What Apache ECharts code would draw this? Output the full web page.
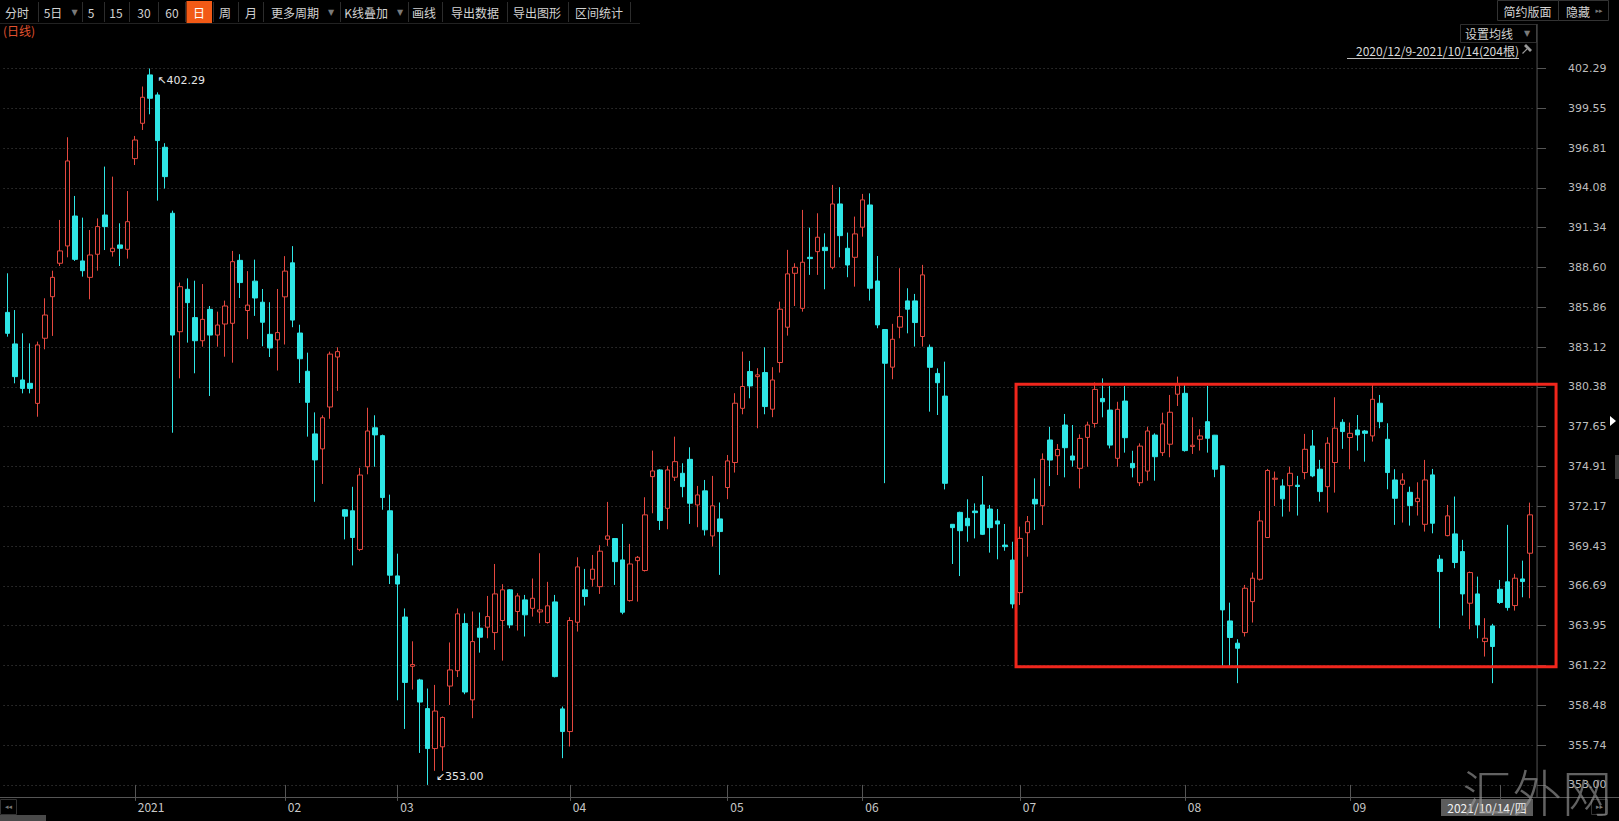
<!DOCTYPE html>
<html><head><meta charset="utf-8">
<script src="https://cdn.jsdelivr.net/npm/echarts@6.0.0/dist/echarts.min.js"></script>
<style>html,body{margin:0;padding:0;background:#000;overflow:hidden}#c{width:1619px;height:821px}</style>
</head><body><div id="c"></div><script>
const dates = [
'2020/12/9','2020/12/10','2020/12/11','2020/12/14','2020/12/15','2020/12/16','2020/12/17','2020/12/18','2020/12/21','2020/12/22','2020/12/23','2020/12/24','2020/12/25','2020/12/28','2020/12/29','2020/12/30','2020/12/31',
'2021/1/4','2021/1/5','2021/1/6','2021/1/7','2021/1/8','2021/1/11','2021/1/12','2021/1/13','2021/1/14','2021/1/15','2021/1/18','2021/1/19','2021/1/20','2021/1/21','2021/1/22','2021/1/25','2021/1/26','2021/1/27','2021/1/28','2021/1/29',
'2021/2/1','2021/2/2','2021/2/3','2021/2/4','2021/2/5','2021/2/8','2021/2/9','2021/2/10','2021/2/18','2021/2/19','2021/2/22','2021/2/23','2021/2/24','2021/2/25','2021/2/26',
'2021/3/1','2021/3/2','2021/3/3','2021/3/4','2021/3/5','2021/3/8','2021/3/9','2021/3/10','2021/3/11','2021/3/12','2021/3/15','2021/3/16','2021/3/17','2021/3/18','2021/3/19','2021/3/22','2021/3/23','2021/3/24','2021/3/25','2021/3/26','2021/3/29','2021/3/30','2021/3/31',
'2021/4/1','2021/4/2','2021/4/6','2021/4/7','2021/4/8','2021/4/9','2021/4/12','2021/4/13','2021/4/14','2021/4/15','2021/4/16','2021/4/19','2021/4/20','2021/4/21','2021/4/22','2021/4/23','2021/4/26','2021/4/27','2021/4/28','2021/4/29','2021/4/30',
'2021/5/6','2021/5/7','2021/5/10','2021/5/11','2021/5/12','2021/5/13','2021/5/14','2021/5/17','2021/5/18','2021/5/19','2021/5/20','2021/5/21','2021/5/24','2021/5/25','2021/5/26','2021/5/27','2021/5/28','2021/5/31',
'2021/6/1','2021/6/2','2021/6/3','2021/6/4','2021/6/7','2021/6/8','2021/6/9','2021/6/10','2021/6/11','2021/6/15','2021/6/16','2021/6/17','2021/6/18','2021/6/21','2021/6/22','2021/6/23','2021/6/24','2021/6/25','2021/6/28','2021/6/29','2021/6/30',
'2021/7/1','2021/7/2','2021/7/5','2021/7/6','2021/7/7','2021/7/8','2021/7/9','2021/7/12','2021/7/13','2021/7/14','2021/7/15','2021/7/16','2021/7/19','2021/7/20','2021/7/21','2021/7/22','2021/7/23','2021/7/26','2021/7/27','2021/7/28','2021/7/29','2021/7/30',
'2021/8/2','2021/8/3','2021/8/4','2021/8/5','2021/8/6','2021/8/9','2021/8/10','2021/8/11','2021/8/12','2021/8/13','2021/8/16','2021/8/17','2021/8/18','2021/8/19','2021/8/20','2021/8/23','2021/8/24','2021/8/25','2021/8/26','2021/8/27','2021/8/30','2021/8/31',
'2021/9/1','2021/9/2','2021/9/3','2021/9/6','2021/9/7','2021/9/8','2021/9/9','2021/9/10','2021/9/13','2021/9/14','2021/9/15','2021/9/16','2021/9/17','2021/9/22','2021/9/23','2021/9/24','2021/9/27','2021/9/28','2021/9/29','2021/9/30',
'2021/10/8','2021/10/11','2021/10/12','2021/10/13','2021/10/14'];

const opens = [385.51,383.34,380.86,380.63,379.25,383.73,386.59,388.89,390.08,392.14,389.05,387.92,389.51,392.21,389.69,390.15,389.85,
396.09,398.52,401.85,400.47,396.87,392.33,384.18,387.10,385.15,383.56,385.72,383.95,384.71,384.76,389.09,385.64,387.66,386.21,384.00,383.62,
386.58,388.92,384.09,381.46,377.15,376.12,379.00,382.44,371.93,371.86,369.20,374.89,377.57,377.03,371.86,
367.38,364.55,361.16,360.22,358.25,355.50,355.62,359.80,360.86,364.11,358.85,363.78,363.85,363.48,364.31,366.42,364.93,365.73,365.15,364.90,364.17,365.59,358.23,
356.67,364.19,366.42,367.15,366.64,369.90,369.95,368.48,365.68,368.43,367.75,374.21,374.67,372.03,374.17,374.44,375.40,372.26,373.23,370.13,371.30,
373.46,375.18,378.91,381.44,381.09,381.37,378.85,382.06,384.49,388.20,385.79,389.30,389.69,389.99,388.61,392.97,389.92,389.30,
391.37,392.90,387.67,384.33,381.74,384.49,386.30,386.30,383.85,383.11,381.31,379.75,370.93,371.75,371.34,371.84,372.26,371.98,371.16,369.50,368.47,
366.23,370.35,372.65,372.21,376.73,375.65,377.76,375.63,374.78,376.91,377.87,379.59,378.79,375.47,379.41,375.12,373.79,374.59,377.07,375.86,376.44,379.88,
379.94,376.28,376.78,377.99,377.06,374.95,364.28,362.75,363.48,365.61,367.15,370.02,374.03,373.57,373.59,373.62,374.49,376.32,374.72,373.52,375.18,377.95,
376.90,377.42,377.35,377.01,379.26,376.78,373.98,373.68,373.13,372.49,370.93,374.33,368.53,370.15,370.27,369.05,365.50,366.14,362.86,363.94,
366.46,366.97,365.34,367.17,368.94];

const closes = [384.07,381.09,380.28,380.28,383.27,385.33,387.92,389.74,395.93,389.16,388.38,389.46,391.41,391.41,389.92,389.92,391.75,
397.37,400.31,400.24,397.33,394.85,383.95,387.28,386.18,383.56,385.03,383.95,384.64,385.95,389.00,387.56,386.01,386.50,384.83,383.06,384.12,
388.35,384.98,382.32,379.32,375.36,378.26,382.64,382.81,371.49,370.02,374.32,377.35,377.08,372.77,367.43,
366.82,360.05,361.28,358.70,355.50,358.08,357.64,360.91,364.77,359.39,362.86,363.16,364.58,366.14,366.42,364.01,366.00,364.70,365.84,365.04,365.32,360.45,356.67,
364.31,368.00,365.96,367.84,369.08,370.13,368.36,364.88,368.20,368.66,371.58,374.60,371.19,374.67,375.24,373.52,372.38,372.95,370.55,372.20,370.43,
375.29,379.26,380.41,380.45,381.21,379.03,380.86,385.73,388.16,388.61,388.96,389.21,390.68,389.76,392.97,390.79,388.77,390.91,
393.25,387.17,384.65,382.01,383.66,385.22,385.73,384.81,388.09,381.73,380.67,373.75,370.70,370.49,370.83,371.73,370.24,370.70,370.95,369.39,365.45,
369.96,371.11,372.33,375.40,375.35,376.08,376.20,375.35,376.84,377.76,380.21,379.36,376.38,378.84,376.89,374.82,376.31,377.35,375.58,377.84,378.64,380.52,
376.00,376.37,377.01,376.85,374.72,365.04,363.14,362.40,366.53,367.22,371.16,374.63,374.10,372.68,374.44,373.53,376.09,374.26,373.18,376.51,377.54,377.31,
377.19,377.08,377.19,379.53,377.99,374.49,372.72,373.98,372.22,372.72,373.98,371.00,367.68,371.51,368.30,366.14,367.61,364.01,363.09,362.52,
365.55,365.20,367.22,366.99,371.58];

const lows = [383.84,380.63,379.94,379.94,378.33,382.97,383.89,388.70,389.30,389.05,387.97,386.41,388.38,389.80,389.35,388.70,389.21,
395.65,398.06,399.14,393.20,394.03,377.23,380.97,383.43,381.32,383.15,379.76,383.15,382.46,382.05,386.50,383.67,385.27,383.18,382.44,381.51,
383.30,384.49,380.65,376.96,372.48,373.71,378.19,380.11,369.89,368.10,369.08,374.37,374.89,371.93,366.82,
358.82,356.85,359.56,355.20,353.00,353.97,353.97,358.50,360.42,359.24,357.59,362.10,363.09,362.29,361.55,363.78,363.62,363.21,364.58,364.12,364.10,360.40,354.84,
355.64,363.55,365.34,366.64,366.14,369.44,366.76,364.74,365.61,365.61,367.68,371.69,370.54,370.59,373.91,372.79,370.96,370.73,370.16,369.40,367.45,
372.66,374.49,378.50,379.60,377.54,378.50,378.30,381.37,383.91,385.95,385.56,388.09,388.09,387.10,388.48,389.30,387.93,387.28,
390.72,386.32,384.42,373.76,380.91,383.73,384.07,383.16,383.16,378.68,378.45,373.33,368.20,367.37,369.73,369.96,370.19,368.98,368.52,369.11,365.15,
365.38,368.70,370.54,370.88,373.56,374.32,374.16,374.89,373.40,374.89,377.58,378.29,376.15,374.89,375.86,374.16,373.56,373.93,373.93,375.63,375.54,379.07,
375.93,375.77,376.00,375.86,374.17,361.19,361.19,360.00,363.21,364.17,367.06,370.00,372.19,371.46,371.80,371.53,374.03,374.17,372.49,371.74,373.11,376.12,
374.72,376.00,375.24,376.62,377.54,373.34,370.89,371.05,370.84,371.53,370.43,370.31,363.78,370.10,367.91,364.65,363.71,363.09,361.83,360.00,
365.45,364.99,364.99,365.91,365.84];

const highs = [388.20,385.67,384.07,383.38,383.50,386.48,388.38,391.87,397.56,393.52,392.03,391.18,391.98,395.54,394.85,391.64,393.86,
397.65,401.05,402.29,400.65,397.15,392.51,387.56,387.85,387.69,387.46,385.95,385.56,386.32,389.74,389.51,388.35,389.14,387.12,386.21,387.12,
389.38,390.07,384.66,382.74,378.63,378.43,382.81,383.11,371.98,373.51,374.81,378.95,378.43,377.10,372.97,
368.91,365.14,362.88,360.30,359.63,359.88,357.71,362.80,365.14,364.80,364.93,364.86,366.00,368.20,366.81,366.46,366.19,366.07,367.20,368.94,366.97,366.07,358.39,
364.54,368.66,367.86,368.82,369.49,372.47,369.97,370.96,369.58,368.75,372.79,376.00,374.72,374.95,376.96,375.13,376.23,373.57,373.98,374.26,372.43,
375.70,379.95,382.81,382.17,381.67,383.11,381.74,386.25,389.81,388.89,392.56,391.34,392.33,390.95,394.28,394.12,391.00,392.10,
393.66,393.70,389.39,384.35,384.72,388.55,387.17,386.78,388.78,383.30,381.66,382.12,370.95,371.80,372.65,372.37,374.25,372.26,371.98,370.95,369.73,
370.77,371.50,374.09,375.81,377.64,376.45,378.52,377.76,377.12,377.99,380.69,380.97,380.44,379.36,380.44,375.99,376.50,377.64,377.19,378.61,379.83,381.09,
380.52,378.29,377.47,380.45,377.08,374.97,365.54,363.02,366.76,367.61,371.85,374.74,374.56,374.03,374.90,374.26,377.15,377.42,375.36,376.92,379.67,378.16,
377.93,378.45,377.42,380.56,379.83,377.88,374.72,374.44,373.52,373.82,375.36,374.74,368.82,372.26,372.84,369.86,367.68,367.33,364.47,364.08,
367.10,370.89,367.52,368.43,372.42];

const yTickLabels = ['353.00','355.74','358.48','361.22','363.95','366.69','369.43','372.17','374.91','377.65','380.38','383.12','385.86','388.60','391.34','394.08','396.81','399.55','402.29'];
const yMin = 353.00, yMax = 402.29;
// hand-drawn range box (price levels and first trading day of July)
const boxTop = 380.56, boxBottom = 361.13, boxStartDate = '2021/7/1';

const W = 1619, H = 821;
const gridLeft = 3.55, gridRightX = 1533.55, gridTop = 68.5, gridBottomY = 784.9;
const CJK = '"Noto Sans CJK SC", sans-serif';

const monthOf = d => d.split('/')[1];
const isMonthStart = i => i > 0 && monthOf(dates[i]) !== monthOf(dates[i - 1]);

const chart = echarts.init(document.getElementById('c'), null, {renderer: 'svg', width: W, height: H});

const option = {
  backgroundColor: '#000',
  animation: false,
  grid: {left: gridLeft, right: W - gridRightX, top: gridTop, bottom: H - gridBottomY, outerBoundsMode: 'none', containLabel: false},
  xAxis: {
    type: 'category', data: dates, boundaryGap: true, offset: 13,
    axisLine: {show: false},
    axisTick: {show: true, alignWithLabel: true, length: 16, interval: (i) => isMonthStart(i), lineStyle: {color: '#555'}},
    axisLabel: {
      show: true, interval: (i) => isMonthStart(i), align: 'left', margin: 3, padding: [0, 0, 0, 3],
      color: '#c8c8c8', fontSize: 12, fontFamily: CJK,
      formatter: (v) => { const p = v.split('/'); return p[1] === '1' ? p[0] : (p[1].length < 2 ? '0' + p[1] : p[1]); }
    },
    splitLine: {show: false}
  },
  yAxis: [
    {type: 'value', min: yMin, max: yMax, show: false, scale: true, splitLine: {show: false}},
    {
      type: 'value', min: 0, max: yTickLabels.length - 1, interval: 1, position: 'right', offset: 3.5,
      axisLine: {show: false},
      axisTick: {show: true, length: 9, lineStyle: {color: '#555'}},
      axisLabel: {show: true, margin: 31, color: '#bdbdbd', fontSize: 11, fontFamily: '"DejaVu Sans", sans-serif',
        formatter: (v) => yTickLabels[Math.round(v)]},
      splitLine: {show: true, lineStyle: {color: '#4a4a4a', type: [1, 3], width: 1}}
    }
  ],
  series: [{
    type: 'candlestick', yAxisIndex: 0, barWidth: 5,
    data: dates.map((d, i) => [opens[i], closes[i], lows[i], highs[i]]),
    itemStyle: {color: '#000', color0: '#2ee6e6', borderColor: '#e5483f', borderColor0: '#2ee6e6', borderWidth: 1},
    emphasis: {disabled: true},
    markPoint: {
      symbol: 'circle', symbolSize: 1, itemStyle: {color: 'rgba(0,0,0,0)'},
      label: {show: true, color: '#e6e6e6', fontSize: 11, fontFamily: '"DejaVu Sans", sans-serif', align: 'left', verticalAlign: 'top'},
      data: [
        {type: 'max', valueDim: 'highest', label: {position: [8, 7], formatter: (p) => '↖' + Number(p.value).toFixed(2)}},
        {type: 'min', valueDim: 'lowest', label: {position: [9, -13], formatter: (p) => '↙' + Number(p.value).toFixed(2)}}
      ]
    }
  }]
};
chart.setOption(option);

// ---------- decorations (toolbar, frames, annotation box) ----------
const g = [];
function txt(text, x, y, style, z) {
  g.push({type: 'text', x: x, y: y, silent: true, z: z || 10,
    style: Object.assign({text: text, fill: '#d2d2d2', font: '12px ' + CJK, align: 'center', verticalAlign: 'middle'}, style || {})});
}
function ln(x1, y1, x2, y2, stroke, w, z) {
  g.push({type: 'line', silent: true, z: z || 10, shape: {x1: x1, y1: y1, x2: x2, y2: y2}, style: {stroke: stroke, lineWidth: w || 1}});
}
function rc(x, y, w, h, style, z) {
  g.push({type: 'rect', silent: true, z: z || 10, shape: {x: x, y: y, width: w, height: h}, style: style});
}

// toolbar
ln(0, 23.5, 640, 23.5, '#222');
rc(186.5, 1, 25.5, 22, {fill: '#f25a16'});
const tbItems = [['分时', 17], ['5日', 53], ['5', 91], ['15', 116], ['30', 144], ['60', 172], ['日', 199], ['周', 225], ['月', 251],
  ['更多周期', 295], ['K线叠加', 366], ['画线', 424], ['导出数据', 475], ['导出图形', 537], ['区间统计', 599]];
tbItems.forEach(([t, x]) => txt(t, x, 12, t === '日' ? {fill: '#fff'} : null));
[74.5, 331, 400].forEach(x => txt('▼', x, 12, {fill: '#7a7a7a', font: '8px "DejaVu Sans"'}));
[38, 82, 104, 129, 158, 185, 213, 238, 263, 340, 408, 442, 507, 568, 630].forEach(x => ln(x + 0.5, 2, x + 0.5, 22, '#2c2c2c'));
txt('(日线)', 3, 30, {fill: '#e2522e', align: 'left'});

// top-right buttons
rc(1497.5, 0.5, 61, 20, {fill: '#000', stroke: '#333'});
rc(1558.5, 0.5, 50, 20, {fill: '#000', stroke: '#333'});
txt('简约版面', 1527.5, 11);
txt('隐藏', 1578, 11);
txt('▸▸', 1599, 11, {fill: '#777', font: '7px "DejaVu Sans"'});
rc(1460.5, 24.5, 76, 18, {fill: '#000', stroke: '#2e2e2e'});
txt('设置均线', 1489, 33.5);
txt('▼', 1527, 33.5, {fill: '#7a7a7a', font: '8px "DejaVu Sans"'});
const rangeText = dates[0] + '-' + dates[dates.length - 1] + '(' + dates.length + '根)';
txt(rangeText, 1519, 50, {align: 'right', fill: '#d8d8d8'});
ln(1347, 58.5, 1519, 58.5, '#bdbdbd');
g.push({type: 'polygon', silent: true, z: 10, shape: {points: [[1526, 44], [1532, 50], [1530, 52], [1524, 46]]}, style: {fill: '#9a9a9a'}});
ln(1527, 49, 1522.5, 53.5, '#9a9a9a', 1.2);

// axes frame
ln(gridRightX + 3.5, 24, gridRightX + 3.5, 798, '#555');
ln(0, 797.5, W, 797.5, '#555');
g.push({type: 'polygon', silent: true, z: 10, shape: {points: [[1610, 416], [1616, 421], [1610, 426]]}, style: {fill: '#fff'}});
rc(1615, 455, 4, 24, {fill: '#3a3a3a'});

// bottom controls
rc(0.5, 799.5, 16, 15, {fill: '#000', stroke: '#333'});
txt('◂◂', 8.5, 807, {fill: '#777', font: '7px "DejaVu Sans"'});
rc(0, 815, 46, 6, {fill: '#4a4a4a'});
rc(1591.5, 799.5, 16, 15, {fill: '#000', stroke: '#333'});
txt('▸▸', 1599.5, 807, {fill: '#777', font: '7px "DejaVu Sans"'});

// last-date box
const last = dates[dates.length - 1].split('/').map(Number);
const wk = '日一二三四五六'[new Date(last[0], last[1] - 1, last[2]).getDay()];
rc(1441, 799, 92, 17, {fill: '#5c5c5c'}, 20);
txt(dates[dates.length - 1] + '/' + wk, 1487, 807.5, {fill: '#f0f0f0'}, 21);

// watermark
txt('汇外网', 1537, 790, {fill: 'rgba(150,150,150,0.65)', font: '300 50px ' + CJK}, 30);

// red range box from data values
const band = (gridRightX - gridLeft) / dates.length;
const bx = chart.convertToPixel({xAxisIndex: 0}, boxStartDate) - band / 2;
const by1 = chart.convertToPixel({yAxisIndex: 0}, boxTop);
const by2 = chart.convertToPixel({yAxisIndex: 0}, boxBottom);
const bx2 = gridRightX + 22.5;
rc(bx, by1, bx2 - bx, by2 - by1, {fill: 'none', stroke: '#f0261c', lineWidth: 3}, 50);

chart.setOption({graphic: {elements: g}});
</script></body></html>
